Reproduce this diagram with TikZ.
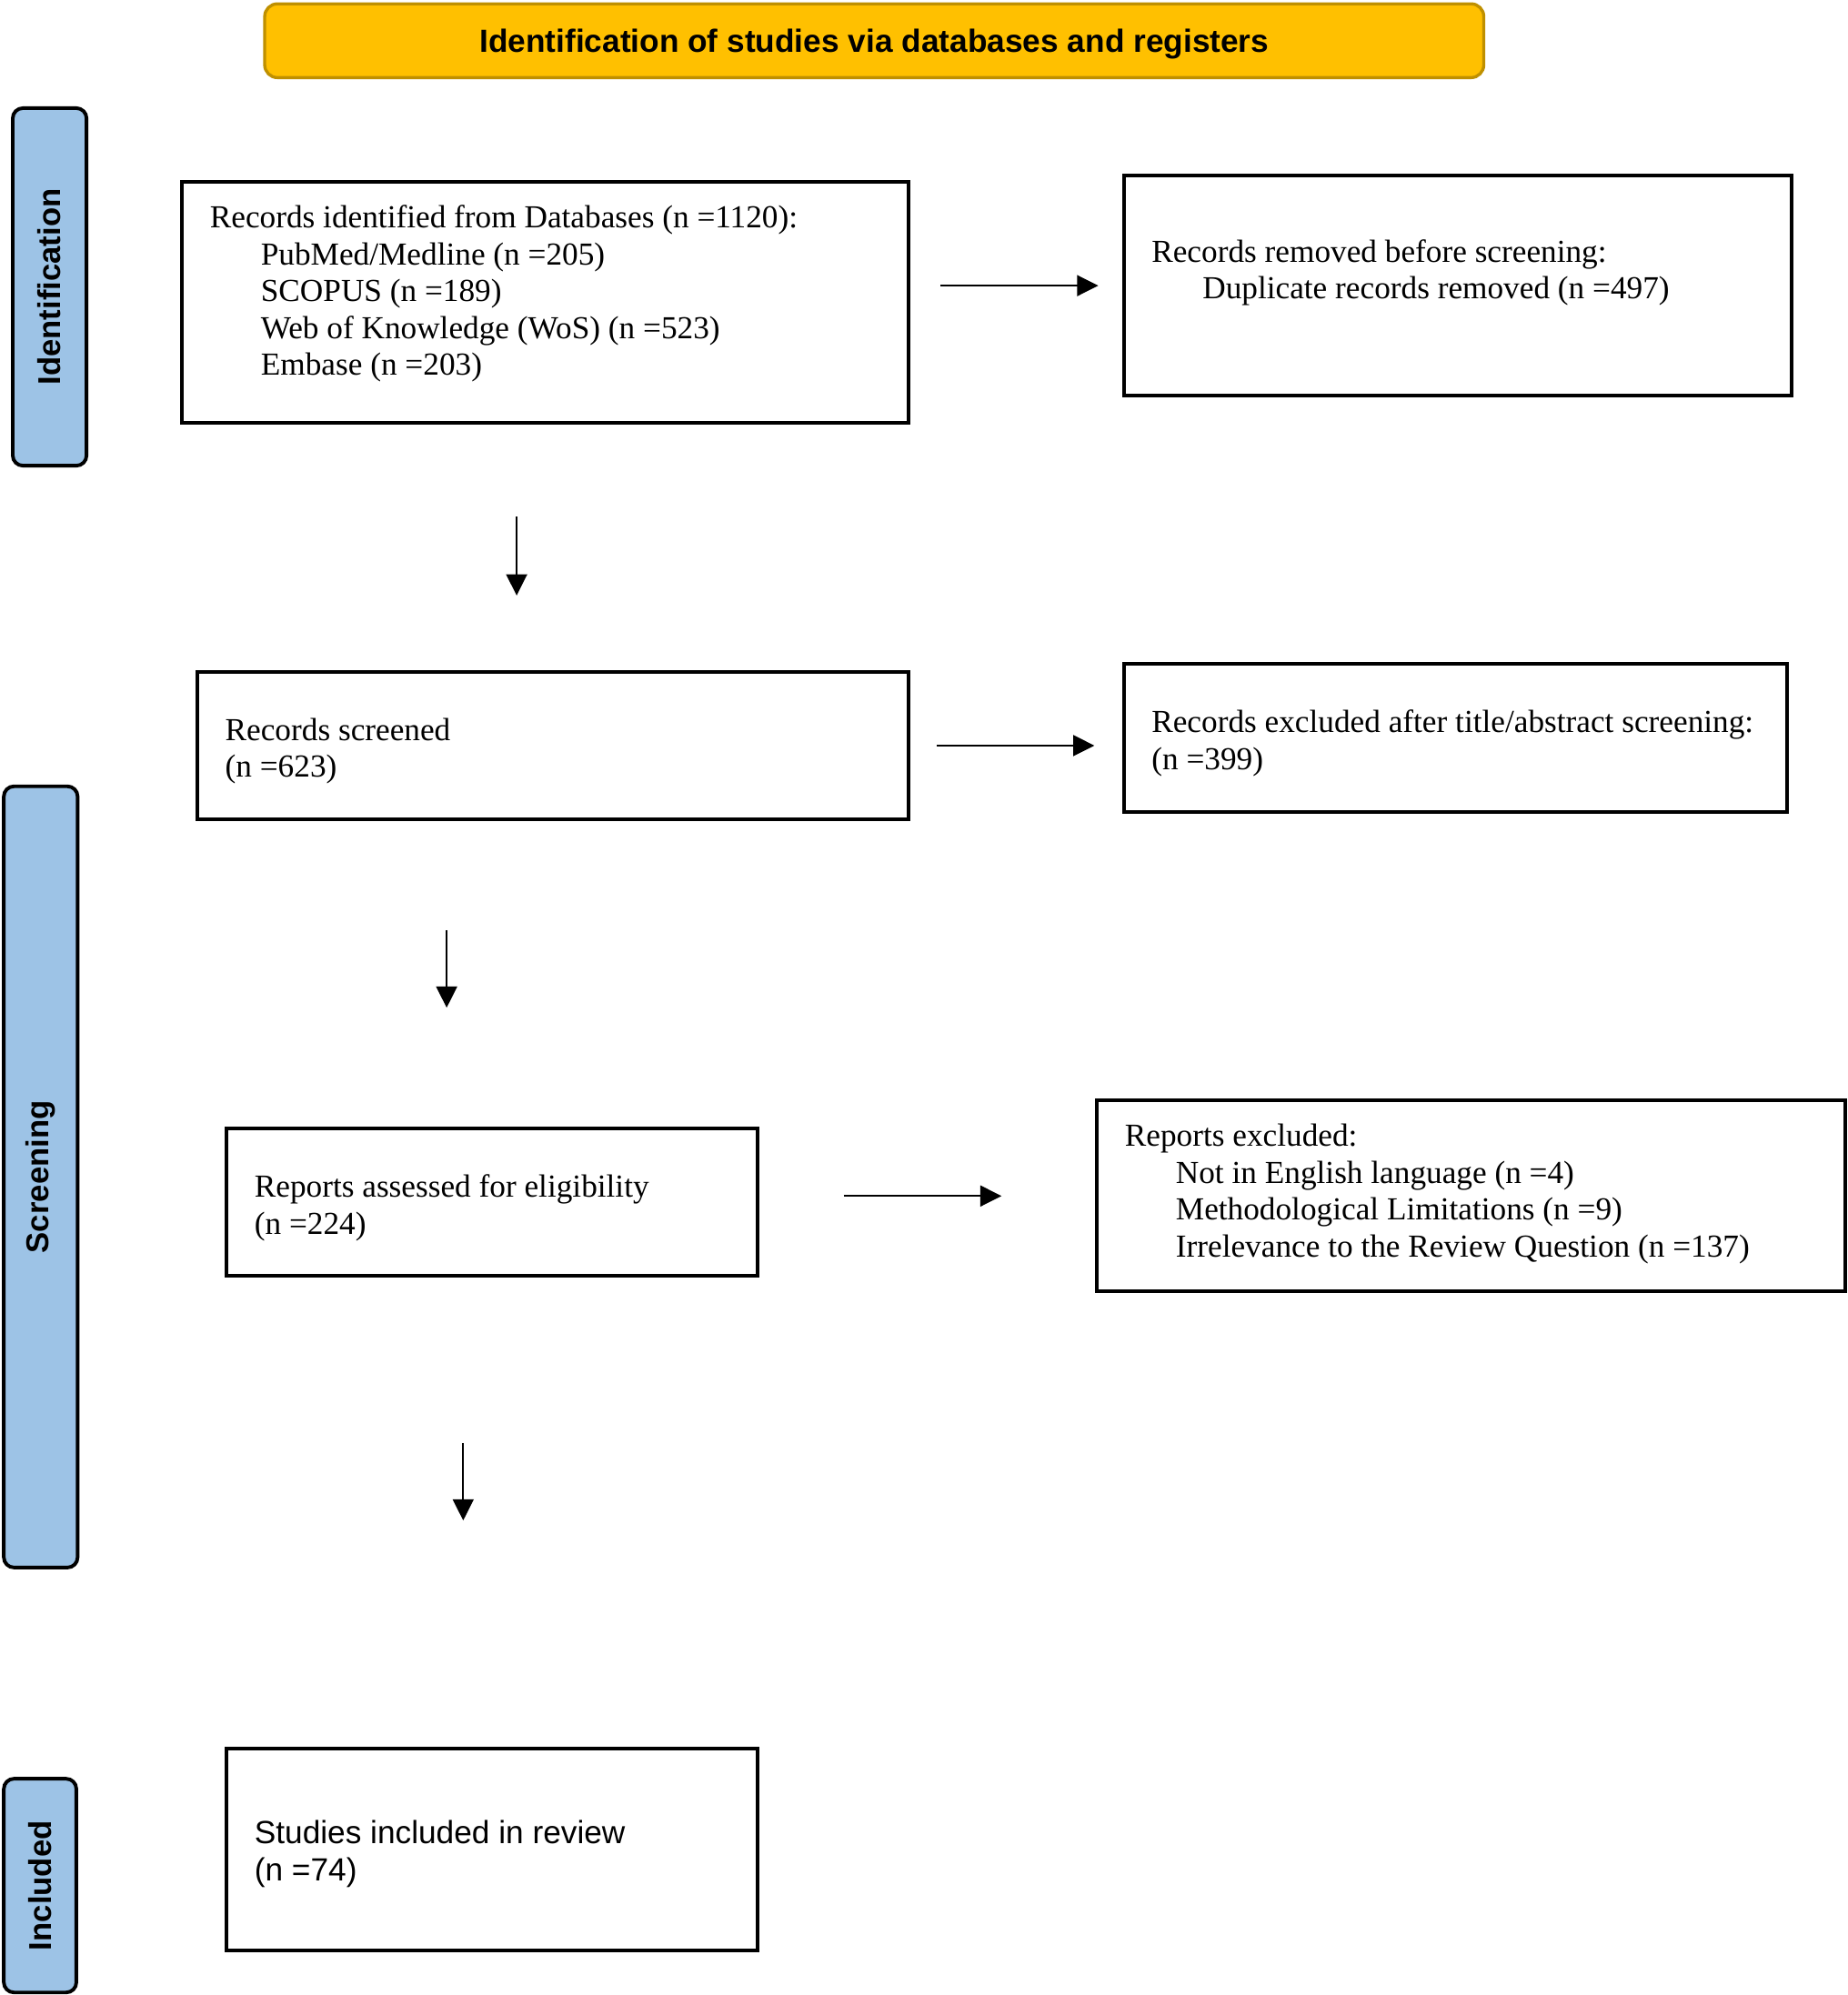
\documentclass[tikz,border=0pt]{standalone}
\usepackage{fontspec}
\setmainfont{Liberation Serif}
\setsansfont{Liberation Sans}
\usetikzlibrary{arrows.meta}
\definecolor{headgold}{HTML}{FFC000}
\definecolor{headedge}{HTML}{BF9000}
\definecolor{phaseblue}{HTML}{9DC3E6}

\begin{document}
\begin{tikzpicture}[
	x=0.5pt, y=-0.5pt,
	font=\fontsize{12.6}{14.5}\selectfont,
	box/.style n args={3}{draw, line width=1.4pt, outer sep=0pt, anchor=north west, align=flush left, inner xsep=11pt, inner ysep=0pt, text width=#1, text height=#2, text depth=#3},
	phase/.style={draw, line width=1.4pt, fill=phaseblue, rounded corners=4pt, rotate=90, inner sep=0pt, minimum height=29pt, font=\sffamily\bfseries\fontsize{12.4}{14}\selectfont},
	arr/.style={draw, line width=0.7pt, -{Triangle[length=8.3pt,width=8.2pt]}}
]
\useasboundingbox (0,0) rectangle (1452,1568);

\node[draw=headedge, fill=headgold, line width=1.2pt, rounded corners=5pt, minimum width=479pt, minimum height=29pt, text depth=0pt, font=\sffamily\bfseries\fontsize{12.6}{14.5}\selectfont] (head) at (687,32) {Identification of studies via databases and registers};

\node[phase, minimum width=140.5pt] (pid) at (39,225.5) {Identification};
\node[phase, minimum width=307pt] (pscr) at (32,925) {Screening};
\node[phase, minimum width=84pt, minimum height=28.5pt] (pinc) at (31.5,1482) {Included};

\node[box={263.5pt}{18pt}{76.5pt}] (recid) at (143,143) {%
	Records identified from Databases (n =1120):\\
	\hspace*{20pt}PubMed/Medline (n =205)\\
	\hspace*{20pt}SCOPUS (n =189)\\
	\hspace*{20pt}Web of Knowledge (WoS) (n =523)\\
	\hspace*{20pt}Embase (n =203)};
\node[box={240.5pt}{34pt}{52.5pt}] (recrm) at (883,138) {%
	Records removed before screening:\\
	\hspace*{20pt}Duplicate records removed (n =497)};
\node[box={257.5pt}{27pt}{31pt}] (recscr) at (155,528) {%
	Records screened\\
	(n =623)};
\node[box={238.5pt}{27pt}{31pt}] (recex) at (883,522) {%
	\mbox{Records excluded after title/abstract screening:}\\
	(n =399)};
\node[box={186.5pt}{27pt}{31pt}] (repas) at (178,887) {%
	Reports assessed for eligibility\\
	(n =224)};
\node[box={272pt}{18pt}{57pt}] (repex) at (862,865) {%
	Reports excluded:\\
	\hspace*{20pt}Not in English language (n =4)\\
	\hspace*{20pt}Methodological Limitations (n =9)\\
	\hspace*{20pt}Irrelevance to the Review Question (n =137)};
\node[box={186.5pt}{37.5pt}{42pt}, font=\sffamily\fontsize{12.6}{14.5}\selectfont] (incl) at (178,1374) {%
	Studies included in review\\
	(n =74)};

\draw[arr, shorten <=12.5pt, shorten >=10pt] (recid.east |- recrm.west) -- (recrm.west);
\draw[arr, shorten <=11pt, shorten >=11.5pt] (recscr.east) -- (recscr.east -| recex.west);
\draw[arr, shorten <=34pt, shorten >=37.5pt] (repas.east |- repex.west) -- (repex.west);
\draw[arr, shorten <=37pt, shorten >=30pt] ([xshift=131.5pt]recid.south west) -- ([xshift=131.5pt]recid.south west |- recscr.north);
\draw[arr, shorten <=43.5pt, shorten >=47.5pt] ([xshift=98pt]recscr.south west) -- ([xshift=98pt]recscr.south west |- repas.north);
\draw[arr, shorten <=65.5pt, shorten >=89.5pt] ([xshift=93pt]repas.south west) -- ([xshift=93pt]repas.south west |- incl.north);
\end{tikzpicture}
\end{document}
